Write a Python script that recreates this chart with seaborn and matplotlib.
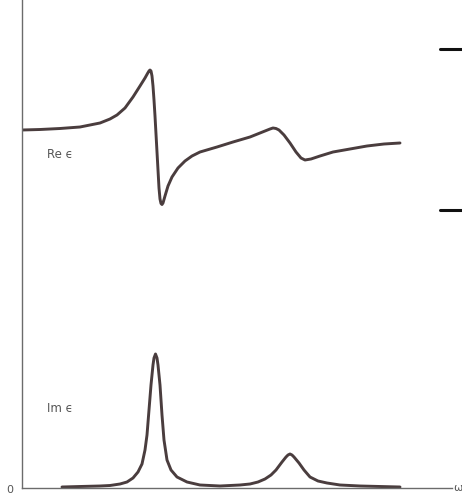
import numpy as np
import pandas as pd
import seaborn as sns
import matplotlib.pyplot as plt
from matplotlib.lines import Line2D

# ---------------------------------------------------------
# Values (omega in arbitrary units, epsilon in arbitrary units)
# ---------------------------------------------------------
re_omega = [0.00, 0.18, 0.38, 0.58, 0.78, 0.88, 0.95, 1.03, 1.11, 1.18, 1.23, 1.255,
            1.27, 1.28, 1.29, 1.30, 1.31, 1.32, 1.33, 1.345, 1.36, 1.37, 1.38, 1.39,
            1.40, 1.41, 1.43, 1.46, 1.50, 1.56, 1.63, 1.70, 1.78, 1.95, 2.11, 2.28,
            2.43, 2.48, 2.51, 2.54, 2.57, 2.62, 2.68, 2.74, 2.79, 2.83, 2.89, 2.98,
            3.11, 3.28, 3.45, 3.62, 3.78]
re_eps = [3.58, 3.585, 3.595, 3.61, 3.65, 3.69, 3.73, 3.80, 3.91, 4.02, 4.10, 4.145,
          4.17, 4.18, 4.17, 4.12, 4.02, 3.88, 3.72, 3.45, 3.18, 3.00, 2.89, 2.845,
          2.835, 2.85, 2.92, 3.02, 3.11, 3.20, 3.27, 3.32, 3.36, 3.41, 3.46, 3.51,
          3.57, 3.59, 3.60, 3.595, 3.58, 3.53, 3.45, 3.36, 3.30, 3.28, 3.29, 3.32,
          3.36, 3.39, 3.42, 3.44, 3.45]

im_omega = [0.40, 0.58, 0.78, 0.88, 0.98, 1.05, 1.11, 1.16, 1.20, 1.23, 1.25, 1.27,
            1.29, 1.31, 1.32, 1.335, 1.35, 1.36, 1.38, 1.40, 1.42, 1.45, 1.49, 1.55,
            1.65, 1.78, 1.98, 2.18, 2.28, 2.36, 2.43, 2.49, 2.54, 2.60, 2.64, 2.66,
            2.68, 2.70, 2.72, 2.77, 2.82, 2.88, 2.96, 3.05, 3.18, 3.38, 3.58, 3.78]
im_eps = [0.01, 0.015, 0.02, 0.025, 0.04, 0.06, 0.10, 0.16, 0.24, 0.38, 0.53, 0.78,
          1.03, 1.23, 1.30, 1.34, 1.30, 1.23, 1.03, 0.73, 0.48, 0.28, 0.18, 0.11,
          0.06, 0.03, 0.02, 0.03, 0.04, 0.06, 0.09, 0.13, 0.18, 0.26, 0.31, 0.33,
          0.34, 0.33, 0.31, 0.25, 0.18, 0.11, 0.07, 0.05, 0.03, 0.02, 0.015, 0.01]

re_df = pd.DataFrame({'omega': re_omega, 'eps': re_eps})
im_df = pd.DataFrame({'omega': im_omega, 'eps': im_eps})

# ---------------------------------------------------------
# Plot
# ---------------------------------------------------------
sns.set_style("white")
fig = plt.figure(figsize=(4.62, 4.97), dpi=100)
ax = fig.add_axes([22 / 462, 9 / 497, 430 / 462, 488 / 497])

curve_color = '#4a3d3e'
for df in [re_df, im_df]:
    sns.lineplot(data=df, x='omega', y='eps', ax=ax, color=curve_color,
                 linewidth=2.1, estimator=None, sort=False,
                 solid_joinstyle='round', solid_capstyle='round')

ax.set_xlim(0, 4.30)
ax.set_ylim(0, 4.88)
ax.set_xticks([])
ax.set_yticks([])
ax.set_xlabel('')
ax.set_ylabel('')
for side in ['top', 'right']:
    ax.spines[side].set_visible(False)
for side in ['left', 'bottom']:
    ax.spines[side].set_color('#6b6b6b')
    ax.spines[side].set_linewidth(1.0)

label_color = '#555555'
ax.text(0.25, 3.33, 'Re ϵ', fontsize=8.5, color=label_color, va='center', ha='left')
ax.text(0.25, 0.80, 'Im ϵ', fontsize=8.5, color=label_color, va='center', ha='left')
ax.text(-0.12, -0.02, '0', fontsize=8, color=label_color, va='center', ha='center',
        clip_on=False)
ax.text(4.31, 0.0, 'ω', fontsize=8, color=label_color, va='center', ha='left',
        clip_on=False)

# the two dark marks at the right page edge
for yf in [1 - 49 / 497, 1 - 210 / 497]:
    fig.add_artist(Line2D([440 / 462, 1.0], [yf, yf], color='#111111', linewidth=2.2))

plt.savefig("out.png", dpi=100)
